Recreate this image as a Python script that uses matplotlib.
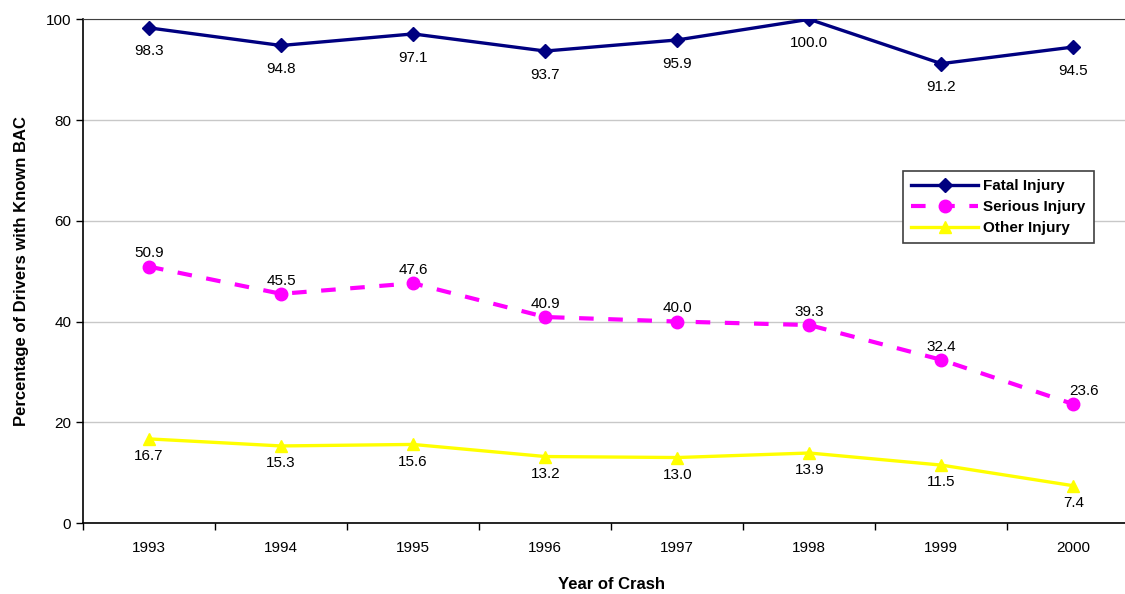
import matplotlib.pyplot as plt

years = ["1993", "1994", "1995", "1996", "1997", "1998", "1999", "2000"]
fatal = [98.3, 94.8, 97.1, 93.7, 95.9, 100.0, 91.2, 94.5]
serious = [50.9, 45.5, 47.6, 40.9, 40.0, 39.3, 32.4, 23.6]
other = [16.7, 15.3, 15.6, 13.2, 13.0, 13.9, 11.5, 7.4]

plt.rcParams["font.family"] = ["Liberation Sans", "DejaVu Sans"]

fig = plt.figure(figsize=(11.25, 5.94), dpi=100)
ax = fig.add_axes([0.0738, 0.1195, 0.939, 0.848])

x = list(range(len(years)))

ax.plot(x, fatal, color="#000080", lw=2.4, marker="D", ms=7, label="Fatal Injury", zorder=3)
ax.plot(x, serious, color="#FF00FF", lw=3, ls=(0, (3.5, 3.5)), marker="o", ms=9,
        label="Serious Injury", zorder=3)
ax.plot(x, other, color="#FFFF00", lw=2.4, marker="^", ms=9, label="Other Injury", zorder=3)

for i, v in enumerate(fatal):
    ax.annotate(f"{v:.1f}", (i, v), xytext=(0, -17), textcoords="offset points",
                ha="center", va="center", fontsize=11)
for i, v in enumerate(serious):
    dx = 8 if i == len(serious) - 1 else 0
    ax.annotate(f"{v:.1f}", (i, v), xytext=(dx, 9.5), textcoords="offset points",
                ha="center", va="center", fontsize=11)
for i, v in enumerate(other):
    ax.annotate(f"{v:.1f}", (i, v), xytext=(0, -12.5), textcoords="offset points",
                ha="center", va="center", fontsize=11)

ax.set_xlim(-0.5, len(years) - 0.5)
ax.set_ylim(0, 100)
ax.set_yticks([0, 20, 40, 60, 80, 100])
ax.set_xticks(x)
ax.set_xticklabels(years)
ax.set_xticks([i + 0.5 for i in range(-1, len(years))], minor=True)
ax.tick_params(axis="x", which="major", length=0, pad=13, labelsize=11)
ax.tick_params(axis="x", which="minor", length=5, width=1)
ax.tick_params(axis="y", length=5, width=1, labelsize=11)

ax.grid(axis="y", color="#c8c8c8", lw=1)
ax.set_axisbelow(True)
ax.spines["right"].set_visible(False)
ax.spines["top"].set_color("#404040")
ax.spines["left"].set_linewidth(1.2)
ax.spines["bottom"].set_linewidth(1.2)

ax.set_ylabel("Percentage of Drivers with Known BAC", fontsize=12, fontweight="bold", labelpad=12)
ax.set_xlabel("Year of Crash", fontsize=12, fontweight="bold", labelpad=16)

leg = ax.legend(loc="upper left", bbox_to_anchor=(0.776, 0.699), frameon=True, fancybox=False,
                edgecolor="#404040", framealpha=1, prop={"weight": "bold", "size": 11},
                handlelength=4.4, borderpad=0.55, labelspacing=0.45, handletextpad=0.3,
                borderaxespad=0)
leg.get_frame().set_linewidth(1.2)

fig.savefig("out.png", dpi=100)
